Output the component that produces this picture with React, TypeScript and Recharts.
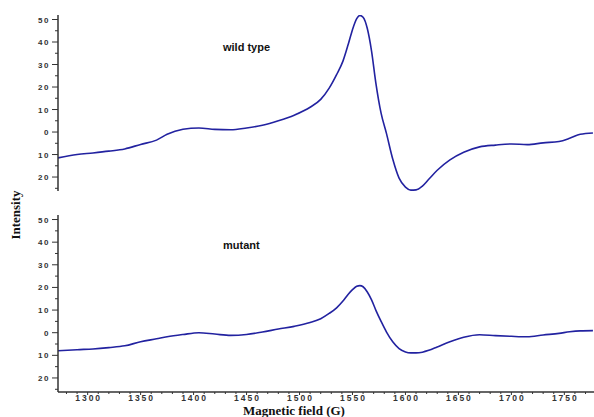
import React from "react";
import { LineChart, Line, XAxis, YAxis } from "recharts";

// magnetic field (G) sample positions, shared by both spectra
const fieldG = [
  1272, 1290, 1305, 1320, 1335, 1350, 1365, 1375, 1390, 1405, 1420, 1435, 1450,
  1465, 1480, 1495, 1510, 1520, 1528, 1535, 1541, 1546, 1550, 1554, 1557, 1560,
  1564, 1568, 1572, 1577, 1582, 1588, 1594, 1600, 1605, 1610, 1616, 1622, 1630,
  1642, 1655, 1670, 1685, 1700, 1715, 1730, 1745, 1755, 1765, 1777,
];

const wildType = [
  -11.5, -10, -9.3, -8.5, -7.5, -5.5, -3.6, -1, 1.2, 1.8, 1.2, 1.0, 1.8,
  3.0, 5.0, 7.5, 11, 14.5, 19.5, 25.5, 31.5, 39, 45.5, 50.4, 51.8, 51,
  46, 36, 22, 8.4, -0.5, -12, -20.5, -24.5, -25.8, -25.7, -24, -21, -17,
  -12.4, -9, -6.6, -5.8, -5.3, -5.6, -4.8, -4.2, -2.8, -1, -0.4,
];

const mutant = [
  -8, -7.5, -7.2, -6.6, -5.8, -4.0, -2.7, -1.8, -0.8, 0, -0.6, -1.2, -0.8,
  0.3, 1.6, 2.8, 4.5, 6.2, 8.5, 11, 14, 17, 19, 20.5, 20.8, 20.3,
  18, 14.5, 10, 5, 0.4, -4, -7, -8.5, -8.9, -8.9, -8.6, -7.8, -6.3,
  -4, -2, -0.9, -1.3, -1.6, -1.8, -1.0, -0.3, 0.4, 0.8, 0.9,
];

const yTicks = [-25, -20, -15, -10, -5, 0, 5, 10, 15, 20, 25, 30, 35, 40, 45, 50];
const xTicks = [
  1280, 1290, 1300, 1310, 1320, 1330, 1340, 1350, 1360, 1370, 1380, 1390, 1400,
  1410, 1420, 1430, 1440, 1450, 1460, 1470, 1480, 1490, 1500, 1510, 1520, 1530,
  1540, 1550, 1560, 1570, 1580, 1590, 1600, 1610, 1620, 1630, 1640, 1650, 1660,
  1670, 1680, 1690, 1700, 1710, 1720, 1730, 1740, 1750, 1760, 1770,
];

const wtData = fieldG.map((f, i) => ({ field: f, value: wildType[i] }));
const mutData = fieldG.map((f, i) => ({ field: f, value: mutant[i] }));

const AXIS = "#333";
const LINE = "#2222a0";
const SANS = "'Liberation Sans', Arial, sans-serif";
const SERIF = "'Liberation Serif', 'Times New Roman', serif";

const YTick = ({ x, y, payload }: any) => {
  const major = payload.value % 10 === 0;
  return (
    <g>
      <line x1={x - (major ? 6 : 3)} x2={x} y1={y} y2={y} stroke={AXIS} strokeWidth={1} />
      {major && (
        <text
          x={x - 8}
          y={y}
          dy={3}
          textAnchor="end"
          fontSize={8}
          fontWeight="bold"
          letterSpacing={1.5}
          fill="#333"
          fontFamily={SANS}
        >
          {Math.abs(payload.value)}
        </text>
      )}
    </g>
  );
};

const XTick = ({ x, y, payload }: any) => {
  const major = payload.value % 50 === 0;
  return (
    <g>
      <line x1={x} x2={x} y1={y} y2={y + (major ? 3 : 2)} stroke={AXIS} strokeWidth={1} />
      {major && (
        <text
          x={x + 1}
          y={y + 9}
          textAnchor="middle"
          fontSize={8.5}
          fontWeight="bold"
          letterSpacing={2}
          fill="#333"
          fontFamily={SANS}
        >
          {payload.value}
        </text>
      )}
    </g>
  );
};

function Panel({ data, showX, height, bottom }: any) {
  return (
    <LineChart width={594} height={height} data={data} margin={{ top: 15, right: 0, left: 0, bottom }}>
      <XAxis
        dataKey="field"
        type="number"
        domain={[1272, 1778]}
        allowDataOverflow
        ticks={xTicks}
        interval={0}
        hide={!showX}
        height={25}
        tickSize={0}
        tickMargin={0}
        tick={<XTick />}
        axisLine={{ stroke: AXIS, strokeWidth: 1.5 }}
        tickLine={false}
      />
      <YAxis
        type="number"
        domain={[-26.2, 52]}
        allowDataOverflow
        ticks={yTicks}
        interval={0}
        width={58}
        tickSize={0}
        tickMargin={0}
        tick={<YTick />}
        axisLine={{ stroke: AXIS, strokeWidth: 1.5 }}
        tickLine={false}
      />
      <Line
        type="monotone"
        dataKey="value"
        stroke={LINE}
        strokeWidth={1.6}
        dot={false}
        isAnimationActive={false}
      />
    </LineChart>
  );
}

export default function App() {
  return (
    <div style={{ position: "absolute", left: 0, top: 0, width: 594, height: 417, background: "#fff", overflow: "hidden" }}>
      <div style={{ position: "absolute", left: 0, top: 0 }}>
        <Panel data={wtData} showX={false} height={200} bottom={9} />
      </div>
      <div style={{ position: "absolute", left: 0, top: 200 }}>
        <Panel data={mutData} showX={true} height={217} bottom={0} />
      </div>
      <svg width={594} height={417} style={{ position: "absolute", left: 0, top: 0, pointerEvents: "none" }}>
        <text x={223} y={51} fontSize={11} fontWeight="bold" fontFamily={SANS} fill="#111">wild type</text>
        <text x={223} y={249} fontSize={11} fontWeight="bold" fontFamily={SANS} fill="#111">mutant</text>
        <text
          x={0}
          y={0}
          transform="translate(20,215) rotate(-90)"
          textAnchor="middle"
          fontSize={13}
          fontWeight="bold"
          fontFamily={SERIF}
          fill="#111"
        >
          Intensity
        </text>
        <text x={294} y={414.5} textAnchor="middle" fontSize={13} fontWeight="bold" fontFamily={SERIF} fill="#111">
          Magnetic field (G)
        </text>
      </svg>
    </div>
  );
}
